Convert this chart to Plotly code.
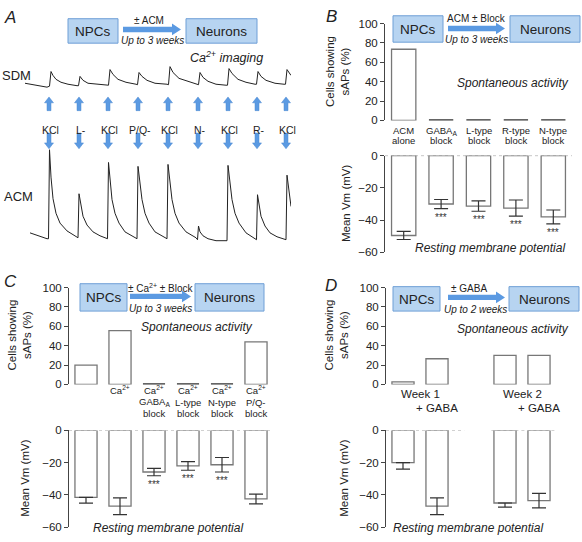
import plotly.graph_objects as go

W, H = 582, 542
FONT = "Liberation Sans, Arial, Helvetica, sans-serif"
TXT = "#222222"
BOX_FILL = "#b7d4f1"
BOX_LINE = "#6e9fd6"
ARROW = "#5b9ae2"

# ---------------- Panel A: Ca2+ imaging traces (time, a.u.) ----------------
sdm_time = [25, 35, 47, 49.5, 51, 53, 56, 61, 68, 77, 78.5, 80, 83, 88, 96, 107, 108.5, 110, 113, 118,
            126, 136, 137.5, 139, 142, 147, 155, 167, 168.5, 170, 173, 179, 188, 197, 198.5, 200, 203,
            208, 216, 226, 227.5, 229, 232, 238, 246, 255, 256.5, 258, 261, 266, 275, 284, 285.5, 287,
            289, 291]
sdm_signal = [5, 3, 1, 2, 17, 13, 9, 6, 4, 2.5, 2.5, 12, 8, 5, 4, 3, 3, 19, 14, 9,
              6, 4, 3.5, 16, 12, 8, 5, 4, 3.5, 22, 16, 10, 7, 4, 3.5, 16, 11,
              7, 4, 3, 3, 20, 15, 9, 6, 4, 4, 17, 12, 8, 5, 4, 4, 19,
              16, 13]
acm_time = [30, 38, 47, 48.5, 49.5, 51, 53, 56, 60, 67, 77, 78, 79, 81, 83, 87, 93, 100, 106, 107.5,
            108.5, 110, 112, 115, 119, 125, 135, 137, 138, 140, 142, 145, 149, 155, 166, 167, 168,
            170, 172, 175, 179, 186, 196, 197.5, 198.5, 200, 203, 208, 216, 226, 227, 228, 230, 232,
            235, 239, 246, 255, 256.5, 257.5, 259, 261, 265, 270, 277, 285, 286, 287, 288.5, 290, 291]
acm_signal = [10, 7, 4, 4, 95, 67, 45, 30, 20, 12, 5, 5, 50, 37, 27, 18, 11, 7, 5, 4,
              82, 62, 44, 30, 20, 11, 5, 4, 78, 60, 44, 30, 20, 11, 5, 4, 80,
              62, 44, 30, 20, 11, 5, 3, 17, 11, 7, 4, 2, 2, 2, 79, 60, 44,
              30, 20, 10, 4, 3, 49, 37, 27, 17, 10, 6, 3, 3, 69, 57, 44, 37]
stim_time = [49, 79, 108, 138, 168, 198, 228, 257, 286]
stim_labels = ["KCl", "L-", "KCl", "P/Q-", "KCl", "N-", "KCl", "R-", "KCl"]

# ---------------- Panel B ----------------
b_labels = [["ACM", "alone"], ["GABA<sub>A</sub>", "block"], ["L-type", "block"],
            ["R-type", "block"], ["N-type", "block"]]
b_pos = [0, 1, 2, 3, 4]
b_saps = [73.5, 0, 0, 0, 0]
b_vm = [-49.5, -30, -31.3, -32.5, -38]
b_vm_err = [2.5, 2.8, 3.2, 5, 4.3]
b_sig = ["", "***", "***", "***", "***"]

# ---------------- Panel C ----------------
c_labels = [[], ["Ca<sup>2+</sup>"], ["Ca<sup>2+</sup>", "GABA<sub>A</sub>", "block"],
            ["Ca<sup>2+</sup>", "L-type", "block"], ["Ca<sup>2+</sup>", "N-type", "block"],
            ["Ca<sup>2+</sup>", "P/Q-", "block"]]
c_pos = [0, 1, 2, 3, 4, 5]
c_saps = [20, 55.5, 0, 0, 0, 44]
c_vm = [-41.5, -47, -25.8, -22, -21.3, -42.5]
c_vm_err_up = [0, 5.2, 2.3, 2.7, 4.5, 3]
c_vm_err_down = [3.6, 5.2, 2.3, 2.7, 4.5, 3]
c_sig = ["", "", "***", "***", "***", ""]

# ---------------- Panel D ----------------
d_pos = [0, 1, 3, 4]
d_saps = [2.7, 26.5, 30, 30]
d_vm = [-20, -47, -45, -43.5]
d_vm_err_up = [0, 5.2, 0, 4.5]
d_vm_err_down = [4, 5.2, 2.6, 4.5]
d_group_labels = [("Week 1", 0.5), ("+ GABA", 1.0), ("Week 2", 3.5), ("+ GABA", 4.0)]

yticks_top = [0, 20, 40, 60, 80, 100]
yticks_bot = [-60, -40, -20, 0]


def fx(x):
    return x / W


def fy(y):
    return 1 - y / H


fig = go.Figure()
layout_axes = {}


def add_axes(n, x0, x1, ytop, ybot, xr, yr, ytickvals=None):
    xa = "xaxis" if n == 1 else f"xaxis{n}"
    ya = "yaxis" if n == 1 else f"yaxis{n}"
    sfx = "" if n == 1 else str(n)
    layout_axes[xa] = dict(domain=[fx(x0), fx(x1)], range=xr, visible=False,
                           anchor="y" + sfx, fixedrange=True)
    if ytickvals is None:
        layout_axes[ya] = dict(domain=[fy(ybot), fy(ytop)], range=yr, visible=False,
                               anchor="x" + sfx, fixedrange=True)
    else:
        layout_axes[ya] = dict(domain=[fy(ybot), fy(ytop)], range=yr, anchor="x" + sfx,
                               showline=True, linecolor="#444", linewidth=1,
                               ticks="outside", ticklen=4, tickcolor="#444",
                               tickvals=ytickvals, tickfont=dict(size=11.5, color=TXT, family=FONT),
                               showgrid=False, zeroline=False, fixedrange=True)


# axes
add_axes(1, 0, 291, 58, 88, [0, 291], [-4, 26])
add_axes(2, 0, 291, 140, 248, [0, 291], [-6, 102])
add_axes(3, 385, 572, 18, 117, [-0.5, 4.5], [0, 100], yticks_top)
add_axes(4, 385, 572, 153, 252, [-0.5, 4.5], [-60, 0], yticks_bot)
add_axes(5, 69, 273, 288, 387, [-0.5, 5.5], [0, 100], yticks_top)
add_axes(6, 69, 273, 434, 533, [-0.5, 5.5], [-60, 0], yticks_bot)
add_axes(7, 386, 556, 288, 387, [-0.5, 4.5], [0, 100], yticks_top)
add_axes(8, 386, 556, 434, 533, [-0.5, 4.5], [-60, 0], yticks_bot)

# traces panel A
fig.add_trace(go.Scatter(x=sdm_time, y=sdm_signal, mode="lines", line=dict(color="#222", width=1),
                         xaxis="x", yaxis="y", hoverinfo="skip", cliponaxis=False))
fig.add_trace(go.Scatter(x=acm_time, y=acm_signal, mode="lines", line=dict(color="#222", width=1),
                         xaxis="x2", yaxis="y2", hoverinfo="skip", cliponaxis=False))


def bar_trace(pos, vals, xa, ya, err_up=None, err_down=None):
    lw = [2.4 if v == 0 else 1.3 for v in vals]
    lc = ["#333" if v == 0 else "#777" for v in vals]
    kw = {}
    if err_up is not None:
        kw["error_y"] = dict(type="data", symmetric=False, array=err_up, arrayminus=err_down,
                             color="#333", thickness=1.2, width=7)
    return go.Bar(x=pos, y=vals, width=0.65, xaxis=xa, yaxis=ya, cliponaxis=False,
                  marker=dict(color="white", line=dict(color=lc, width=lw)),
                  hoverinfo="skip", **kw)


fig.add_trace(bar_trace(b_pos, b_saps, "x3", "y3"))
fig.add_trace(bar_trace(b_pos, b_vm, "x4", "y4", b_vm_err, b_vm_err))
fig.add_trace(bar_trace(c_pos, c_saps, "x5", "y5"))
fig.add_trace(bar_trace(c_pos, c_vm, "x6", "y6", c_vm_err_up, c_vm_err_down))
fig.add_trace(bar_trace(d_pos, d_saps, "x7", "y7"))
fig.add_trace(bar_trace(d_pos, d_vm, "x8", "y8", d_vm_err_up, d_vm_err_down))

shapes = []
ann = []


def text(x, y, s, size=12, italic=False, xanchor="center", xref="paper", yref="paper", angle=0,
         yanchor="middle"):
    if italic:
        s = "<i>" + s + "</i>"
    ann.append(dict(x=x, y=y, xref=xref, yref=yref, text=s, showarrow=False, xanchor=xanchor,
                    yanchor=yanchor, textangle=angle,
                    font=dict(size=size, color=TXT, family=FONT)))


def box(x0, x1, y0, y1, label):
    shapes.append(dict(type="rect", xref="paper", yref="paper", x0=fx(x0), x1=fx(x1),
                       y0=fy(y1), y1=fy(y0), fillcolor=BOX_FILL,
                       line=dict(color=BOX_LINE, width=1), layer="above"))
    text(fx((x0 + x1) / 2), fy((y0 + y1) / 2 + 0.5), label, size=13.5)


def block_arrow(x0, x1, yc, shaft=5.5, head=12, hl=9):
    pts = [(x0, yc - shaft / 2), (x1 - hl, yc - shaft / 2), (x1 - hl, yc - head / 2), (x1, yc),
           (x1 - hl, yc + head / 2), (x1 - hl, yc + shaft / 2), (x0, yc + shaft / 2)]
    path = "M " + " L ".join(f"{fx(x):.5f},{fy(y):.5f}" for x, y in pts) + " Z"
    shapes.append(dict(type="path", xref="paper", yref="paper", path=path, fillcolor=ARROW,
                       line=dict(width=0), layer="above"))


def vert_arrow(t, y_tail, y_tip, shaft=4, head=9, hl=6):
    # x in data units of panel A time axis (1 unit = 1 px), y in pixels -> paper
    d = 1 if y_tip > y_tail else -1
    yb = y_tip - d * hl
    pts = [(t - shaft / 2, y_tail), (t - shaft / 2, yb), (t - head / 2, yb), (t, y_tip),
           (t + head / 2, yb), (t + shaft / 2, yb), (t + shaft / 2, y_tail)]
    path = "M " + " L ".join(f"{x:.3f},{fy(y):.5f}" for x, y in pts) + " Z"
    shapes.append(dict(type="path", xref="x", yref="paper", path=path, fillcolor=ARROW,
                       line=dict(color="#4a88d0", width=0.5), layer="above"))


def schematic(nx0, nx1, mx0, mx1, y0, y1, ax0, ax1, ay, top_txt, top_x, top_y, bot_txt, bot_x, bot_y):
    box(nx0, nx1, y0, y1, "NPCs")
    box(mx0, mx1, y0, y1, "Neurons")
    block_arrow(ax0, ax1, ay)
    text(fx(top_x), fy(top_y), top_txt, size=10)
    text(fx(bot_x), fy(bot_y), bot_txt, size=10, italic=True)


# schematics
schematic(68, 118, 186, 257, 13, 38, 123, 181, 24, "± ACM", 149, 15, "Up to 3 weeks", 152, 35.5)
schematic(393, 443, 510, 580, 10, 37, 448, 505, 23, "ACM ± Block", 476, 13, "Up to 3 weeks", 476, 34)
schematic(80, 127, 195, 264, 284, 312, 130, 191, 297, "± Ca<sup>2+</sup> ± Block", 161, 288.5,
          "Up to 3 weeks", 160, 309.5)
schematic(393, 440, 509, 579, 287, 312, 448, 505, 298, "± GABA", 469, 289, "Up to 2 weeks", 475, 310)

# panel letters
text(fx(2), fy(12), "A", size=17, italic=True, xanchor="left")
text(fx(324), fy(11), "B", size=17, italic=True, xanchor="left")
text(fx(2), fy(282), "C", size=17, italic=True, xanchor="left")
text(fx(323), fy(286), "D", size=17, italic=True, xanchor="left")

# panel A labels
text(fx(226), fy(52), "Ca<sup>2+</sup> imaging", size=12.5, italic=True)
text(fx(0), fy(71), "SDM", size=13, xanchor="left")
text(fx(2), fy(195), "ACM", size=13, xanchor="left")
for t, lab in zip(stim_time, stim_labels):
    vert_arrow(t, 107, 93)
    vert_arrow(t, 130, 146)
    ann.append(dict(x=t + 1.5, y=fy(118.5), xref="x", yref="paper", text=lab, showarrow=False,
                    font=dict(size=10.5, color=TXT, family=FONT)))

# y-axis titles
text(fx(337), fy(67.5), "Cells showing<br>sAPs (%)", size=11.5, angle=-90)
text(fx(346), fy(202.5), "Mean Vm (mV)", size=11.5, angle=-90)
text(fx(20), fy(337), "Cells showing<br>sAPs (%)", size=11.5, angle=-90)
text(fx(25), fy(483.5), "Mean Vm (mV)", size=11.5, angle=-90)
text(fx(337), fy(337), "Cells showing<br>sAPs (%)", size=11.5, angle=-90)
text(fx(344), fy(483.5), "Mean Vm (mV)", size=11.5, angle=-90)

# italic captions
text(fx(513), fy(79), "Spontaneous activity", size=12, italic=True)
text(fx(490), fy(247), "Resting membrane potential", size=12, italic=True)
text(fx(197), fy(328), "Spontaneous activity", size=12, italic=True)
text(fx(168), fy(534), "Resting membrane potential", size=12, italic=True)
text(fx(513), fy(330), "Spontaneous activity", size=12, italic=True)
text(fx(468), fy(534), "Resting membrane potential", size=12, italic=True)

# category labels (one annotation per line)
for p, lines in zip(b_pos, b_labels):
    for i, ln in enumerate(lines):
        text(p, fy(127.5 + 10.5 * i), ln, size=9.5, xref="x3")
for p, lines in zip(c_pos, c_labels):
    for i, ln in enumerate(lines):
        text(p, fy(393 + 12 * i), ln, size=9.5, xref="x5")
for lab, p in d_group_labels:
    yy = 397 if lab.startswith("Week") else 411
    text(p, fy(yy), lab, size=11.5, xref="x7")

# significance stars under error bars
for p, v, e, s in zip(b_pos, b_vm, b_vm_err, b_sig):
    if s:
        ann.append(dict(x=p, y=v - e, xref="x4", yref="y4", text=s, showarrow=False, yanchor="top",
                        yshift=-1, font=dict(size=10, color="#333", family=FONT)))
for p, v, e, s in zip(c_pos, c_vm, c_vm_err_down, c_sig):
    if s:
        ann.append(dict(x=p, y=v - e, xref="x6", yref="y6", text=s, showarrow=False, yanchor="top",
                        yshift=-1, font=dict(size=10, color="#333", family=FONT)))

# dotted zero lines
for xa, ya, x0, x1 in [("x4", "y4", -0.5, 4.5), ("x6", "y6", -0.5, 5.5),
                       ("x8", "y8", -0.5, 1.8), ("x8", "y8", 2.6, 4.5)]:
    shapes.append(dict(type="line", xref=xa, yref=ya, x0=x0, x1=x1, y0=0, y1=0,
                       line=dict(color="#999", width=1, dash="dot"), layer="below"))

fig.update_layout(width=W, height=H, margin=dict(l=0, r=0, t=0, b=0),
                  paper_bgcolor="white", plot_bgcolor="white", showlegend=False,
                  font=dict(family=FONT, color=TXT), bargap=0.35,
                  shapes=shapes, annotations=ann, **layout_axes)

POST = ("document.documentElement.style.overflow='hidden';"
        "document.body.style.margin='0';document.body.style.overflow='hidden';"
        "var d=document.getElementById('{plot_id}');"
        "d.style.position='fixed';d.style.left='0px';d.style.top='0px';")
fig.write_html("out.html", config={"displayModeBar": False, "responsive": False}, post_script=POST)
